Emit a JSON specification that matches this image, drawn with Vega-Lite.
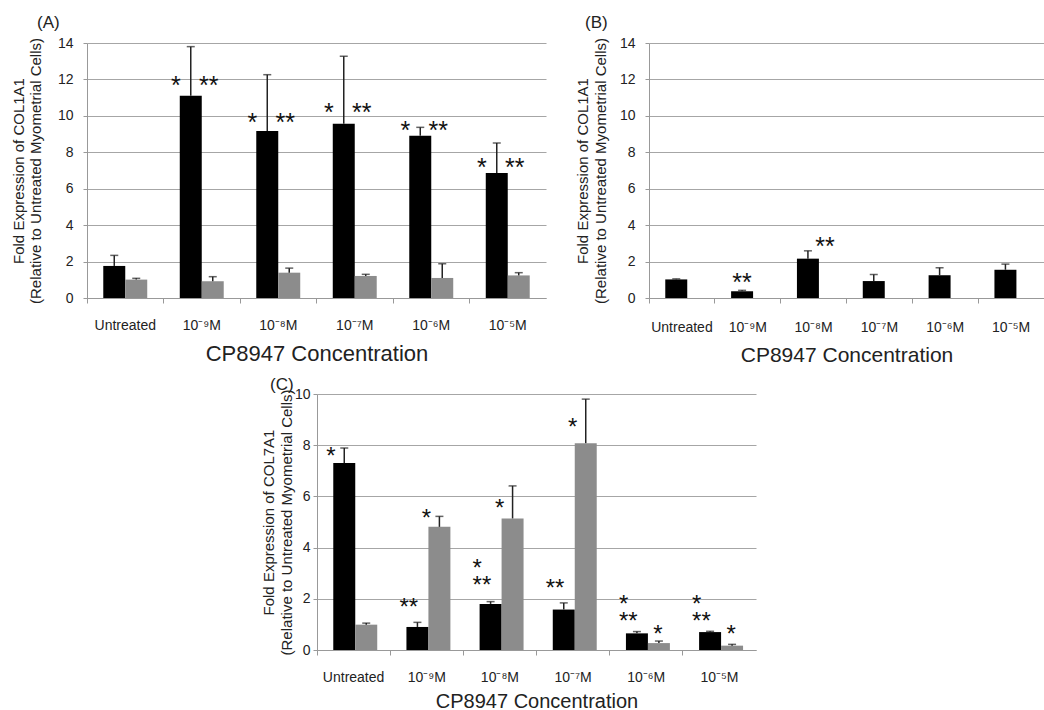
{
  "$schema": "https://vega.github.io/schema/vega-lite/v6.json",
  "background": "white",
  "padding": {"left": 11, "top": 14, "right": 0, "bottom": 0},
  "config": {
    "font": "Liberation Sans",
    "view": {"stroke": null},
    "axis": {"labelFont": "Liberation Sans", "titleFont": "Liberation Sans", "labelColor": "#222", "titleColor": "#222", "titleFontWeight": "normal", "domainColor": "#999", "tickColor": "#999", "gridColor": "#a6a6a6", "gridWidth": 1.2},
    "title": {"font": "Liberation Sans", "fontWeight": "normal", "anchor": "start", "frame": "group", "fontSize": 17, "color": "#222"}
  },
  "datasets": {
    "barsA": [
      {"conc": "Untreated", "series": "black", "value": 1.76, "upper": 2.34},
      {"conc": "Untreated", "series": "gray", "value": 1.01, "upper": 1.08},
      {"conc": "10⁻⁹M", "series": "black", "value": 11.1, "upper": 13.8},
      {"conc": "10⁻⁹M", "series": "gray", "value": 0.92, "upper": 1.17},
      {"conc": "10⁻⁸M", "series": "black", "value": 9.17, "upper": 12.26},
      {"conc": "10⁻⁸M", "series": "gray", "value": 1.39, "upper": 1.64},
      {"conc": "10⁻⁷M", "series": "black", "value": 9.56, "upper": 13.27},
      {"conc": "10⁻⁷M", "series": "gray", "value": 1.21, "upper": 1.3},
      {"conc": "10⁻⁶M", "series": "black", "value": 8.91, "upper": 9.37},
      {"conc": "10⁻⁶M", "series": "gray", "value": 1.1, "upper": 1.88},
      {"conc": "10⁻⁵M", "series": "black", "value": 6.86, "upper": 8.51},
      {"conc": "10⁻⁵M", "series": "gray", "value": 1.24, "upper": 1.39}
    ],
    "starsA": [
      {"conc": "10⁻⁹M", "series": "black", "label": "*", "y": 12.0},
      {"conc": "10⁻⁹M", "series": "black", "label": "**", "y": 12.0},
      {"conc": "10⁻⁸M", "series": "black", "label": "*", "y": 10.0},
      {"conc": "10⁻⁸M", "series": "black", "label": "**", "y": 10.0},
      {"conc": "10⁻⁷M", "series": "black", "label": "*", "y": 10.53},
      {"conc": "10⁻⁷M", "series": "black", "label": "**", "y": 10.53},
      {"conc": "10⁻⁶M", "series": "black", "label": "*", "y": 9.54},
      {"conc": "10⁻⁶M", "series": "black", "label": "**", "y": 9.54},
      {"conc": "10⁻⁵M", "series": "black", "label": "*", "y": 7.54},
      {"conc": "10⁻⁵M", "series": "black", "label": "**", "y": 7.54}
    ],
    "barsB": [
      {"conc": "Untreated", "series": "black", "value": 1.02, "upper": 1.05},
      {"conc": "10⁻⁹M", "series": "black", "value": 0.37, "upper": 0.42},
      {"conc": "10⁻⁸M", "series": "black", "value": 2.16, "upper": 2.59},
      {"conc": "10⁻⁷M", "series": "black", "value": 0.93, "upper": 1.29},
      {"conc": "10⁻⁶M", "series": "black", "value": 1.25, "upper": 1.66},
      {"conc": "10⁻⁵M", "series": "black", "value": 1.55, "upper": 1.86}
    ],
    "starsB": [
      {"conc": "10⁻⁹M", "series": "black", "label": "**", "y": 1.23},
      {"conc": "10⁻⁸M", "series": "black", "label": "**", "y": 3.2}
    ],
    "barsC": [
      {"conc": "Untreated", "series": "black", "value": 7.3, "upper": 7.89},
      {"conc": "Untreated", "series": "gray", "value": 0.99, "upper": 1.05},
      {"conc": "10⁻⁹M", "series": "black", "value": 0.9, "upper": 1.08},
      {"conc": "10⁻⁹M", "series": "gray", "value": 4.81, "upper": 5.22},
      {"conc": "10⁻⁸M", "series": "black", "value": 1.8, "upper": 1.89},
      {"conc": "10⁻⁸M", "series": "gray", "value": 5.14, "upper": 6.41},
      {"conc": "10⁻⁷M", "series": "black", "value": 1.58, "upper": 1.84},
      {"conc": "10⁻⁷M", "series": "gray", "value": 8.08, "upper": 9.8},
      {"conc": "10⁻⁶M", "series": "black", "value": 0.65, "upper": 0.72},
      {"conc": "10⁻⁶M", "series": "gray", "value": 0.27, "upper": 0.35},
      {"conc": "10⁻⁵M", "series": "black", "value": 0.7, "upper": 0.73},
      {"conc": "10⁻⁵M", "series": "gray", "value": 0.17, "upper": 0.22}
    ],
    "starsC": [
      {"conc": "Untreated", "series": "black", "label": "*", "y": 7.82},
      {"conc": "10⁻⁹M", "series": "black", "label": "**", "y": 1.93},
      {"conc": "10⁻⁸M", "series": "black", "label": "*\n**", "y": 3.42},
      {"conc": "10⁻⁷M", "series": "black", "label": "**", "y": 2.65},
      {"conc": "10⁻⁶M", "series": "black", "label": "*\n**", "y": 2.05},
      {"conc": "10⁻⁵M", "series": "black", "label": "*\n**", "y": 2.05},
      {"conc": "10⁻⁹M", "series": "gray", "label": "*", "y": 5.38},
      {"conc": "10⁻⁸M", "series": "gray", "label": "*", "y": 5.8},
      {"conc": "10⁻⁷M", "series": "gray", "label": "*", "y": 8.93},
      {"conc": "10⁻⁶M", "series": "gray", "label": "*", "y": 0.85},
      {"conc": "10⁻⁵M", "series": "gray", "label": "*", "y": 0.85}
    ]
  },
  "spacing": 11,
  "vconcat": [
    {
      "spacing": 29,
      "hconcat": [
        {
          "title": {"text": "(A)", "dx": -50},
          "width": 459,
          "height": 255,
          "encoding": {
            "x": {"field": "conc", "type": "nominal", "sort": null,
              "scale": {"domain": ["Untreated", "10⁻⁹M", "10⁻⁸M", "10⁻⁷M", "10⁻⁶M", "10⁻⁵M"], "paddingInner": 0, "paddingOuter": 0},
              "axis": {"title": "CP8947 Concentration", "titleFontSize": 22, "titlePadding": 11, "labelFontSize": 14, "labelPadding": 15, "labelAngle": 0, "tickSize": 5, "bandPosition": 0, "grid": false}},
            "xOffset": {"field": "series", "type": "nominal", "scale": {"domain": ["black", "gray"], "paddingInner": 0, "paddingOuter": 0.74}}
          },
          "layer": [
            {
              "data": {"name": "barsA"},
              "mark": {"type": "bar"},
              "encoding": {
                "y": {"field": "value", "type": "quantitative",
                  "scale": {"domain": [0, 14], "nice": false},
                  "axis": {"title": ["Fold Expression of COL1A1", "(Relative to Untreated Myometrial Cells)"], "values": [0, 2, 4, 6, 8, 10, 12, 14], "titleFontSize": 15, "titleLineHeight": 17, "titlePadding": 14, "labelFontSize": 14, "labelPadding": 10, "tickSize": 4, "grid": true}},
                "color": {"field": "series", "type": "nominal", "scale": {"domain": ["black", "gray"], "range": ["#000000", "#8c8c8c"]}, "legend": null}
              }
            },
            {
              "data": {"name": "barsA"},
              "mark": {"type": "rule", "color": "#222", "strokeWidth": 1.5},
              "encoding": {
                "y": {"field": "value", "type": "quantitative",
                  "axis": {"title": ["Fold Expression of COL1A1", "(Relative to Untreated Myometrial Cells)"], "values": [0, 2, 4, 6, 8, 10, 12, 14], "titleFontSize": 15, "titleLineHeight": 17, "titlePadding": 14, "labelFontSize": 14, "labelPadding": 10, "tickSize": 4, "grid": true}},
                "y2": {"field": "upper"}
              }
            },
            {
              "data": {"name": "barsA"},
              "mark": {"type": "tick", "color": "#222", "size": 8, "thickness": 1.5},
              "encoding": {
                "y": {"field": "upper", "type": "quantitative",
                  "axis": {"title": ["Fold Expression of COL1A1", "(Relative to Untreated Myometrial Cells)"], "values": [0, 2, 4, 6, 8, 10, 12, 14], "titleFontSize": 15, "titleLineHeight": 17, "titlePadding": 14, "labelFontSize": 14, "labelPadding": 10, "tickSize": 4, "grid": true}}
              }
            },
            {
              "data": {"name": "starsA"},
              "transform": [{"filter": "datum.label === '*'"}],
              "mark": {"type": "text", "fontSize": 25, "baseline": "middle", "dy": 7, "dx": -15, "color": "#111"},
              "encoding": {
                "y": {"field": "y", "type": "quantitative",
                  "axis": {"title": ["Fold Expression of COL1A1", "(Relative to Untreated Myometrial Cells)"], "values": [0, 2, 4, 6, 8, 10, 12, 14], "titleFontSize": 15, "titleLineHeight": 17, "titlePadding": 14, "labelFontSize": 14, "labelPadding": 10, "tickSize": 4, "grid": true}},
                "text": {"field": "label"}
              }
            },
            {
              "data": {"name": "starsA"},
              "transform": [{"filter": "datum.label === '**'"}],
              "mark": {"type": "text", "fontSize": 25, "baseline": "middle", "dy": 7, "dx": 18, "color": "#111"},
              "encoding": {
                "y": {"field": "y", "type": "quantitative",
                  "axis": {"title": ["Fold Expression of COL1A1", "(Relative to Untreated Myometrial Cells)"], "values": [0, 2, 4, 6, 8, 10, 12, 14], "titleFontSize": 15, "titleLineHeight": 17, "titlePadding": 14, "labelFontSize": 14, "labelPadding": 10, "tickSize": 4, "grid": true}},
                "text": {"field": "label"}
              }
            }
          ]
        },
        {
          "title": {"text": "(B)", "dx": -64},
          "width": 395,
          "height": 255,
          "encoding": {
            "x": {"field": "conc", "type": "nominal", "sort": null,
              "scale": {"domain": ["Untreated", "10⁻⁹M", "10⁻⁸M", "10⁻⁷M", "10⁻⁶M", "10⁻⁵M"], "paddingInner": 0, "paddingOuter": 0},
              "axis": {"title": "CP8947 Concentration", "titleFontSize": 21, "titlePadding": 10, "labelFontSize": 14, "labelPadding": 17, "labelAngle": 0, "tickSize": 5, "bandPosition": 0, "grid": false}},
            "xOffset": {"field": "series", "type": "nominal", "scale": {"domain": ["black"], "paddingInner": 0, "paddingOuter": 0.72}}
          },
          "layer": [
            {
              "data": {"name": "barsB"},
              "mark": {"type": "bar", "color": "#000000"},
              "encoding": {
                "y": {"field": "value", "type": "quantitative",
                  "scale": {"domain": [0, 14], "nice": false},
                  "axis": {"title": ["Fold Expression of COL1A1", "(Relative to Untreated Myometrial Cells)"], "values": [0, 2, 4, 6, 8, 10, 12, 14], "titleFontSize": 15, "titleLineHeight": 18, "titlePadding": 11, "labelFontSize": 14, "labelPadding": 10, "tickSize": 4, "grid": true}}
              }
            },
            {
              "data": {"name": "barsB"},
              "mark": {"type": "rule", "color": "#222", "strokeWidth": 1.5},
              "encoding": {
                "y": {"field": "value", "type": "quantitative",
                  "axis": {"title": ["Fold Expression of COL1A1", "(Relative to Untreated Myometrial Cells)"], "values": [0, 2, 4, 6, 8, 10, 12, 14], "titleFontSize": 15, "titleLineHeight": 18, "titlePadding": 11, "labelFontSize": 14, "labelPadding": 10, "tickSize": 4, "grid": true}},
                "y2": {"field": "upper"}
              }
            },
            {
              "data": {"name": "barsB"},
              "mark": {"type": "tick", "color": "#222", "size": 8, "thickness": 1.5},
              "encoding": {
                "y": {"field": "upper", "type": "quantitative",
                  "axis": {"title": ["Fold Expression of COL1A1", "(Relative to Untreated Myometrial Cells)"], "values": [0, 2, 4, 6, 8, 10, 12, 14], "titleFontSize": 15, "titleLineHeight": 18, "titlePadding": 11, "labelFontSize": 14, "labelPadding": 10, "tickSize": 4, "grid": true}}
              }
            },
            {
              "data": {"name": "starsB"},
              "transform": [{"filter": "datum.conc === '10⁻⁹M'"}],
              "mark": {"type": "text", "fontSize": 25, "baseline": "middle", "dy": 7, "dx": 0, "color": "#111"},
              "encoding": {
                "y": {"field": "y", "type": "quantitative",
                  "axis": {"title": ["Fold Expression of COL1A1", "(Relative to Untreated Myometrial Cells)"], "values": [0, 2, 4, 6, 8, 10, 12, 14], "titleFontSize": 15, "titleLineHeight": 18, "titlePadding": 11, "labelFontSize": 14, "labelPadding": 10, "tickSize": 4, "grid": true}},
                "text": {"field": "label"}
              }
            },
            {
              "data": {"name": "starsB"},
              "transform": [{"filter": "datum.conc === '10⁻⁸M'"}],
              "mark": {"type": "text", "fontSize": 25, "baseline": "middle", "dy": 7, "dx": 17, "color": "#111"},
              "encoding": {
                "y": {"field": "y", "type": "quantitative",
                  "axis": {"title": ["Fold Expression of COL1A1", "(Relative to Untreated Myometrial Cells)"], "values": [0, 2, 4, 6, 8, 10, 12, 14], "titleFontSize": 15, "titleLineHeight": 18, "titlePadding": 11, "labelFontSize": 14, "labelPadding": 10, "tickSize": 4, "grid": true}},
                "text": {"field": "label"}
              }
            }
          ]
        }
      ]
    },
    {
      "spacing": 20,
      "hconcat": [
        {
          "width": 154,
          "height": 10,
          "data": {"values": []},
          "mark": {"type": "point", "opacity": 0},
          "encoding": {}
        },
        {
          "title": {"text": "(C)", "dx": -47, "dy": 11},
          "width": 439,
          "height": 256,
          "encoding": {
            "x": {"field": "conc", "type": "nominal", "sort": null,
              "scale": {"domain": ["Untreated", "10⁻⁹M", "10⁻⁸M", "10⁻⁷M", "10⁻⁶M", "10⁻⁵M"], "paddingInner": 0, "paddingOuter": 0},
              "axis": {"title": "CP8947 Concentration", "titleFontSize": 20, "titlePadding": 7, "labelFontSize": 14, "labelPadding": 15, "labelAngle": 0, "tickSize": 5, "bandPosition": 0, "grid": false}},
            "xOffset": {"field": "series", "type": "nominal", "scale": {"domain": ["black", "gray"], "paddingInner": 0, "paddingOuter": 0.743}}
          },
          "layer": [
            {
              "data": {"name": "barsC"},
              "mark": {"type": "bar"},
              "encoding": {
                "y": {"field": "value", "type": "quantitative",
                  "scale": {"domain": [0, 10], "nice": false},
                  "axis": {"title": ["Fold Expression of COL7A1", "(Relative to Untreated Myometrial Cells)"], "values": [0, 2, 4, 6, 8, 10], "titleFontSize": 15, "titleLineHeight": 18, "titlePadding": 0, "labelFontSize": 14, "labelPadding": 3, "tickSize": 4, "grid": true}},
                "color": {"field": "series", "type": "nominal", "scale": {"domain": ["black", "gray"], "range": ["#000000", "#8c8c8c"]}, "legend": null}
              }
            },
            {
              "data": {"name": "barsC"},
              "mark": {"type": "rule", "color": "#222", "strokeWidth": 1.5},
              "encoding": {
                "y": {"field": "value", "type": "quantitative",
                  "axis": {"title": ["Fold Expression of COL7A1", "(Relative to Untreated Myometrial Cells)"], "values": [0, 2, 4, 6, 8, 10], "titleFontSize": 15, "titleLineHeight": 18, "titlePadding": 0, "labelFontSize": 14, "labelPadding": 3, "tickSize": 4, "grid": true}},
                "y2": {"field": "upper"}
              }
            },
            {
              "data": {"name": "barsC"},
              "mark": {"type": "tick", "color": "#222", "size": 8, "thickness": 1.5},
              "encoding": {
                "y": {"field": "upper", "type": "quantitative",
                  "axis": {"title": ["Fold Expression of COL7A1", "(Relative to Untreated Myometrial Cells)"], "values": [0, 2, 4, 6, 8, 10], "titleFontSize": 15, "titleLineHeight": 18, "titlePadding": 0, "labelFontSize": 14, "labelPadding": 3, "tickSize": 4, "grid": true}}
              }
            },
            {
              "data": {"name": "starsC"},
              "transform": [{"filter": "datum.series === 'black'"}],
              "mark": {"type": "text", "fontSize": 24, "baseline": "middle", "align": "left", "dy": 7, "dx": -18, "lineBreak": "\n", "lineHeight": 17, "color": "#111"},
              "encoding": {
                "y": {"field": "y", "type": "quantitative",
                  "axis": {"title": ["Fold Expression of COL7A1", "(Relative to Untreated Myometrial Cells)"], "values": [0, 2, 4, 6, 8, 10], "titleFontSize": 15, "titleLineHeight": 18, "titlePadding": 0, "labelFontSize": 14, "labelPadding": 3, "tickSize": 4, "grid": true}},
                "text": {"field": "label"}
              }
            },
            {
              "data": {"name": "starsC"},
              "transform": [{"filter": "datum.series === 'gray' && (datum.conc === '10⁻⁹M' || datum.conc === '10⁻⁸M' || datum.conc === '10⁻⁷M')"}],
              "mark": {"type": "text", "fontSize": 24, "baseline": "middle", "dy": 7, "dx": -13, "color": "#111"},
              "encoding": {
                "y": {"field": "y", "type": "quantitative",
                  "axis": {"title": ["Fold Expression of COL7A1", "(Relative to Untreated Myometrial Cells)"], "values": [0, 2, 4, 6, 8, 10], "titleFontSize": 15, "titleLineHeight": 18, "titlePadding": 0, "labelFontSize": 14, "labelPadding": 3, "tickSize": 4, "grid": true}},
                "text": {"field": "label"}
              }
            },
            {
              "data": {"name": "starsC"},
              "transform": [{"filter": "datum.series === 'gray' && (datum.conc === '10⁻⁶M' || datum.conc === '10⁻⁵M')"}],
              "mark": {"type": "text", "fontSize": 24, "baseline": "middle", "dy": 7, "dx": -1, "color": "#111"},
              "encoding": {
                "y": {"field": "y", "type": "quantitative",
                  "axis": {"title": ["Fold Expression of COL7A1", "(Relative to Untreated Myometrial Cells)"], "values": [0, 2, 4, 6, 8, 10], "titleFontSize": 15, "titleLineHeight": 18, "titlePadding": 0, "labelFontSize": 14, "labelPadding": 3, "tickSize": 4, "grid": true}},
                "text": {"field": "label"}
              }
            }
          ]
        }
      ]
    }
  ]
}
